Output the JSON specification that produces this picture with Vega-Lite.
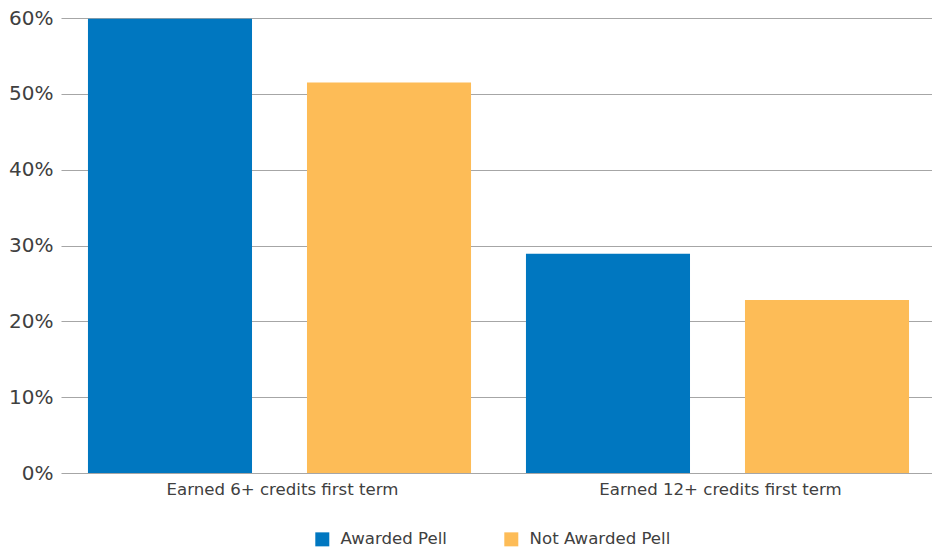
{
  "$schema": "https://vega.github.io/schema/vega-lite/v6.json",
  "autosize": "none",
  "width": 871,
  "height": 455,
  "padding": {"left": 61, "top": 18, "right": 0, "bottom": 79},
  "background": "white",
  "data": {
    "values": [
      {"measure": "Earned 6+ credits first term", "group": "Awarded Pell", "value": 0.599},
      {"measure": "Earned 6+ credits first term", "group": "Not Awarded Pell", "value": 0.515},
      {"measure": "Earned 12+ credits first term", "group": "Awarded Pell", "value": 0.289},
      {"measure": "Earned 12+ credits first term", "group": "Not Awarded Pell", "value": 0.228}
    ]
  },
  "mark": {"type": "bar"},
  "encoding": {
    "x": {
      "field": "measure",
      "type": "nominal",
      "sort": ["Earned 6+ credits first term", "Earned 12+ credits first term"],
      "scale": {"paddingInner": 0.0114, "paddingOuter": 0},
      "axis": {
        "title": null,
        "labelAngle": 0,
        "labelLimit": 0,
        "labelOffset": 5,
        "domain": false,
        "ticks": false,
        "labelFont": "DejaVu Sans",
        "labelFontSize": 16.6,
        "labelColor": "#404040",
        "labelPadding": 8
      }
    },
    "xOffset": {
      "field": "group",
      "type": "nominal",
      "scale": {"paddingInner": 0.251, "paddingOuter": 0.114, "align": 0.54}
    },
    "y": {
      "field": "value",
      "type": "quantitative",
      "scale": {"domain": [0, 0.6], "nice": false},
      "axis": {
        "title": null,
        "format": ".0%",
        "values": [0, 0.1, 0.2, 0.3, 0.4, 0.5, 0.6],
        "domain": false,
        "ticks": false,
        "labelFont": "DejaVu Sans",
        "labelFontSize": 20,
        "labelColor": "#404040",
        "labelPadding": 8,
        "gridColor": "#a6a6a6",
        "gridWidth": 1.2
      }
    },
    "color": {
      "field": "group",
      "type": "nominal",
      "scale": {"domain": ["Awarded Pell", "Not Awarded Pell"], "range": ["#0077c0", "#fdbc57"]},
      "legend": {
        "title": null,
        "orient": "none",
        "legendX": 253,
        "legendY": 513,
        "direction": "horizontal",
        "symbolType": "square",
        "symbolSize": 196,
        "symbolStrokeWidth": 0,
        "labelFont": "DejaVu Sans",
        "labelFontSize": 16.6,
        "labelColor": "#404040",
        "labelOffset": 10,
        "columnPadding": 56
      }
    }
  },
  "config": {
    "view": {"stroke": null}
  }
}
